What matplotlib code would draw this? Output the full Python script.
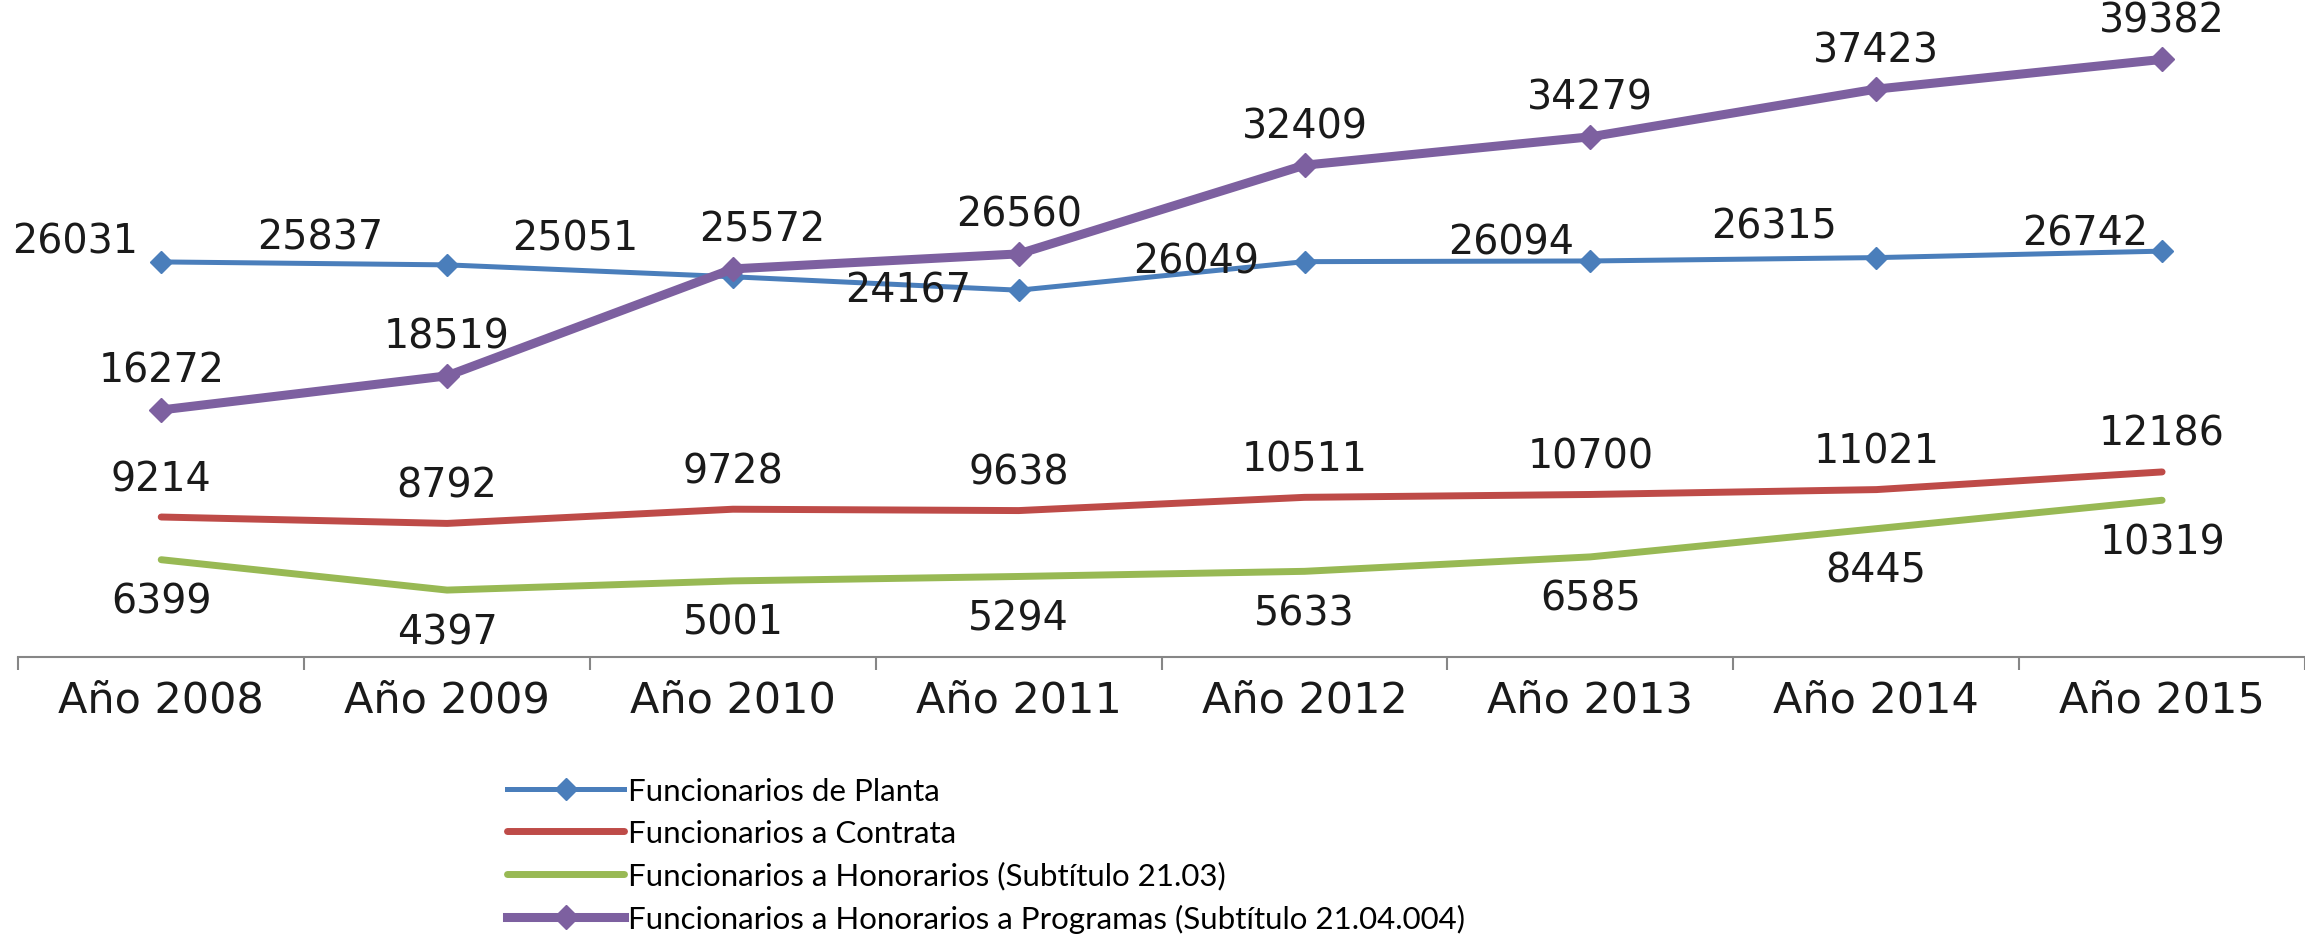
import matplotlib
matplotlib.use("Agg")
import matplotlib.pyplot as plt

years = ["Año 2008", "Año 2009", "Año 2010", "Año 2011", "Año 2012", "Año 2013", "Año 2014", "Año 2015"]
planta = [26031, 25837, 25051, 24167, 26049, 26094, 26315, 26742]
contrata = [9214, 8792, 9728, 9638, 10511, 10700, 11021, 12186]
honorarios = [6399, 4397, 5001, 5294, 5633, 6585, 8445, 10319]
programas = [16272, 18519, 25572, 26560, 32409, 34279, 37423, 39382]

names = ["Funcionarios de Planta",
         "Funcionarios a Contrata",
         "Funcionarios a Honorarios (Subtítulo 21.03)",
         "Funcionarios a Honorarios a Programas (Subtítulo 21.04.004)"]

# excel put the blue labels in odd places, offsets in pixels
planta_off = [(-86, 20), (-127, 27), (-158, 38), (-111, 0), (-108, 0), (-79, 18), (-102, 31), (-77, 18)]
prog_dx = [0, 0, 29, 0, 0, 0, 0, 0]

fig = plt.figure(figsize=(23.05, 9.37), dpi=100)
ax = fig.add_axes([0, 0.298, 1, 0.702])
x = list(range(len(years)))

ax.plot(x, planta, color="#4a7ebb", lw=3.6, marker="D", ms=11, label=names[0], zorder=3)
ax.plot(x, contrata, color="#be4b48", lw=5, solid_capstyle="round", label=names[1], zorder=2)
ax.plot(x, honorarios, color="#98b954", lw=5, solid_capstyle="round", label=names[2], zorder=2)
ax.plot(x, programas, color="#7d60a0", lw=6.5, marker="D", ms=12.5, label=names[3], zorder=4)

fs = 28.5
for i in x:
    ax.annotate(str(planta[i]), (i, planta[i]), xytext=planta_off[i], textcoords="offset pixels",
                ha="center", va="center", fontsize=fs, color="#1a1a1a")
    ax.annotate(str(programas[i]), (i, programas[i]), xytext=(prog_dx[i], 39), textcoords="offset pixels",
                ha="center", va="center", fontsize=fs, color="#1a1a1a")
    ax.annotate(str(contrata[i]), (i, contrata[i]), xytext=(0, 38), textcoords="offset pixels",
                ha="center", va="center", fontsize=fs, color="#1a1a1a")
    ax.annotate(str(honorarios[i]), (i, honorarios[i]), xytext=(0, -42), textcoords="offset pixels",
                ha="center", va="center", fontsize=fs, color="#1a1a1a")

ax.set_xlim(-0.564, 7.479)
ax.set_ylim(0, 43364)
for s in ["top", "left", "right"]:
    ax.spines[s].set_visible(False)
ax.spines["bottom"].set_color("#868686")
ax.spines["bottom"].set_linewidth(1.5)
ax.spines["bottom"].set_bounds(-0.5, 7.5)
ax.set_yticks([])
ax.set_xticks(x)
ax.set_xticklabels(years, fontsize=31, color="#1a1a1a")
ax.tick_params(axis="x", which="major", length=0, pad=16)
ax.set_xticks([i - 0.5 for i in range(len(years) + 1)], minor=True)
ax.tick_params(axis="x", which="minor", length=9, width=1.5, color="#868686")

fig.legend(loc="upper left", bbox_to_anchor=(0.22, 0.17), frameon=False,
           prop={"family": ["Lato", "DejaVu Sans"], "size": 22.5},
           handlelength=3.75, handletextpad=0.12, labelspacing=0.45, borderpad=0,
           borderaxespad=0)

fig.savefig("out.png", dpi=100)
